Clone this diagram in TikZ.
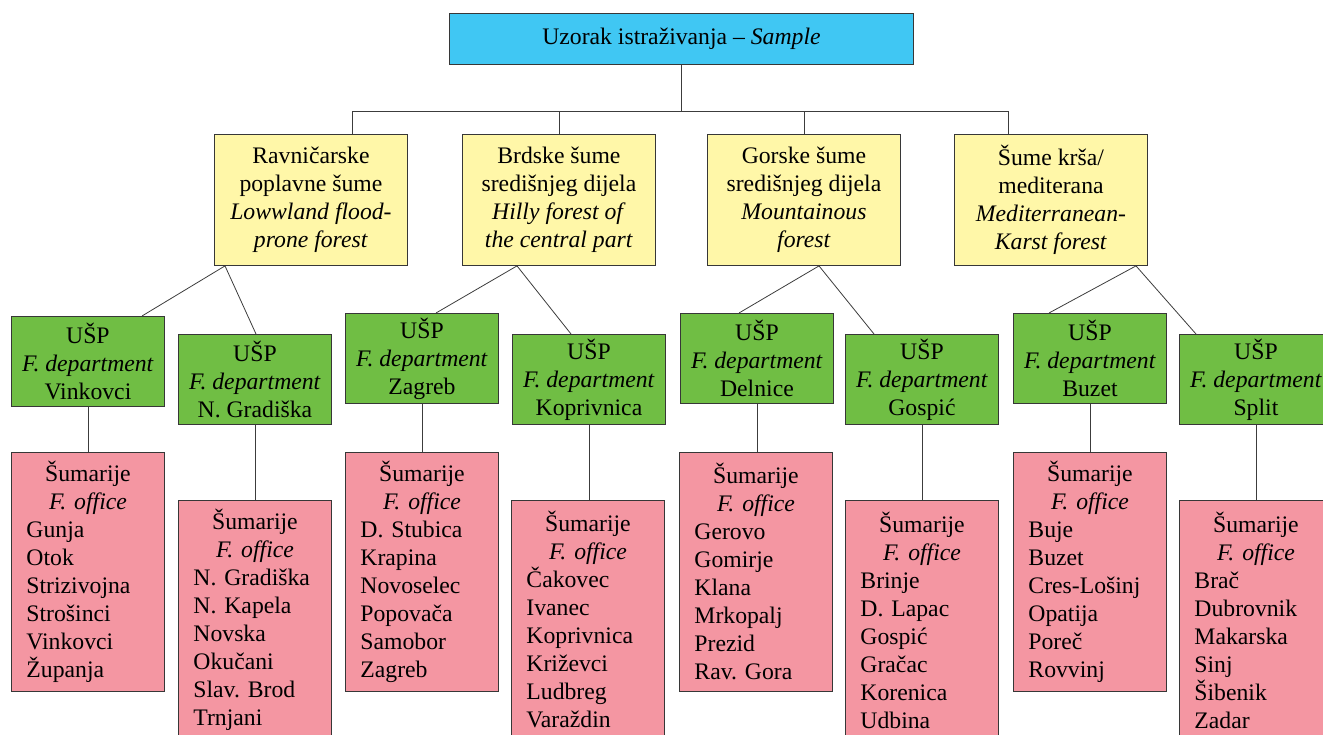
\documentclass[tikz,border=0pt]{standalone}
\usepackage{fontspec}
\setmainfont{Liberation Serif}
\usetikzlibrary{calc}
\definecolor{topc}{RGB}{64,199,243}
\definecolor{yelc}{RGB}{255,247,168}
\definecolor{grnc}{RGB}{112,190,68}
\definecolor{pnkc}{RGB}{244,150,162}
\definecolor{edgec}{RGB}{55,55,55}
\definecolor{linec}{RGB}{60,60,60}
\frenchspacing
\newcommand\offtext[1]{\parindent=0pt\centering Šumarije\\\textit{F. office}\par\raggedright #1\par}
\begin{document}
\begin{tikzpicture}[x=1pt,y=-1pt,
 box/.style={draw=edgec,line width=0.9pt,anchor=north west,inner sep=0pt,font=\fontsize{23.7}{28}\selectfont\frenchspacing},
 topbox/.style={box,align=center,fill=topc,minimum width=464pt,minimum height=51pt},
 forbox/.style={box,align=center,fill=yelc,minimum width=193pt,minimum height=131pt},
 depbox/.style={box,align=center,fill=grnc,minimum width=153pt,minimum height=90pt},
 offbox/.style={box,fill=pnkc,minimum width=153pt,minimum height=239pt,text width=123pt,inner xsep=15pt},
 link/.style={draw=linec,line width=0.8pt}]
\useasboundingbox (0,0) rectangle (1323,735);
\clip (0,0) rectangle (1323,735);

\node[topbox] (T) at (449,13) {Uzorak istraživanja -- \textit{Sample}};

\node[forbox] (Y1) at (214,134) {Ravničarske\\poplavne šume\\\textit{Lowwland flood-}\\\textit{prone forest}};
\node[forbox] (Y2) at (462,134) {Brdske šume\\središnjeg dijela\\\textit{Hilly forest of}\\\textit{the central part}};
\node[forbox] (Y3) at (707,134) {Gorske šume\\središnjeg dijela\\\textit{Mountainous}\\\textit{forest}};
\node[forbox] (Y4) at (954,134) {Šume krša/\\mediterana\\\textit{Mediterranean-}\\\textit{Karst forest}};

\node[depbox] (G1) at (11,316) {UŠP\\\textit{F. department}\\Vinkovci};
\node[depbox] (G2) at (178,334) {UŠP\\\textit{F. department}\\N. Gradiška};
\node[depbox] (G3) at (345,313) {UŠP\\\textit{F. department}\\Zagreb};
\node[depbox] (G4) at (512,334) {UŠP\\\textit{F. department}\\Koprivnica};
\node[depbox] (G5) at (680,313) {UŠP\\\textit{F. department}\\Delnice};
\node[depbox] (G6) at (845,334) {UŠP\\\textit{F. department}\\Gospić};
\node[depbox] (G7) at (1013,313) {UŠP\\\textit{F. department}\\Buzet};
\node[depbox] (G8) at (1179,334) {UŠP\\\textit{F. department}\\Split};

\node[offbox] (P1) at (11,452) {\offtext{Gunja\\Otok\\Strizivojna\\Strošinci\\Vinkovci\\Županja}};
\node[offbox] (P2) at (178,500) {\offtext{N. Gradiška\\N. Kapela\\Novska\\Okučani\\Slav. Brod\\Trnjani}};
\node[offbox] (P3) at (345,452) {\offtext{D. Stubica\\Krapina\\Novoselec\\Popovača\\Samobor\\Zagreb}};
\node[offbox] (P4) at (511,500) {\offtext{Čakovec\\Ivanec\\Koprivnica\\Križevci\\Ludbreg\\Varaždin}};
\node[offbox] (P5) at (679,452) {\offtext{Gerovo\\Gomirje\\Klana\\Mrkopalj\\Prezid\\Rav. Gora}};
\node[offbox] (P6) at (845,500) {\offtext{Brinje\\D. Lapac\\Gospić\\Gračac\\Korenica\\Udbina}};
\node[offbox] (P7) at (1013,452) {\offtext{Buje\\Buzet\\Cres-Lošinj\\Opatija\\Poreč\\Rovvinj}};
\node[offbox] (P8) at (1179,500) {\offtext{Brač\\Dubrovnik\\Makarska\\Sinj\\Šibenik\\Zadar}};

% bus
\coordinate (busL) at (352,111);
\coordinate (busR) at (1008,111);
\draw[link] (T.south) -- (T.south |- busL);
\draw[link] ($(Y1.north west)+(138,0)$) -- (busL) -- (busR) -- ($(Y4.north west)+(54,0)$);
\draw[link] (Y2.north) -- (Y2.north |- busL);
\draw[link] (Y3.north) -- (Y3.north |- busL);

% forest to departments
\coordinate (b1) at ($(Y1.south west)+(11,0)$);
\coordinate (b2) at ($(Y2.south west)+(55,0)$);
\coordinate (b3) at ($(Y3.south west)+(112,0)$);
\coordinate (b4) at ($(Y4.south west)+(182,0)$);
\draw[link] ($(G1.north west)+(131,0)$) -- (b1) -- ($(G2.north west)+(78,0)$);
\draw[link] ($(G3.north west)+(91,0)$) -- (b2) -- ($(G4.north west)+(59,0)$);
\draw[link] ($(G5.north west)+(59,0)$) -- (b3) -- ($(G6.north west)+(29,0)$);
\draw[link] ($(G7.north west)+(36,0)$) -- (b4) -- ($(G8.north west)+(17,0)$);

% departments to offices
\foreach \i in {1,...,8}{
  \draw[link] (G\i.south) -- (G\i.south |- P\i.north);
}
\end{tikzpicture}
\end{document}
